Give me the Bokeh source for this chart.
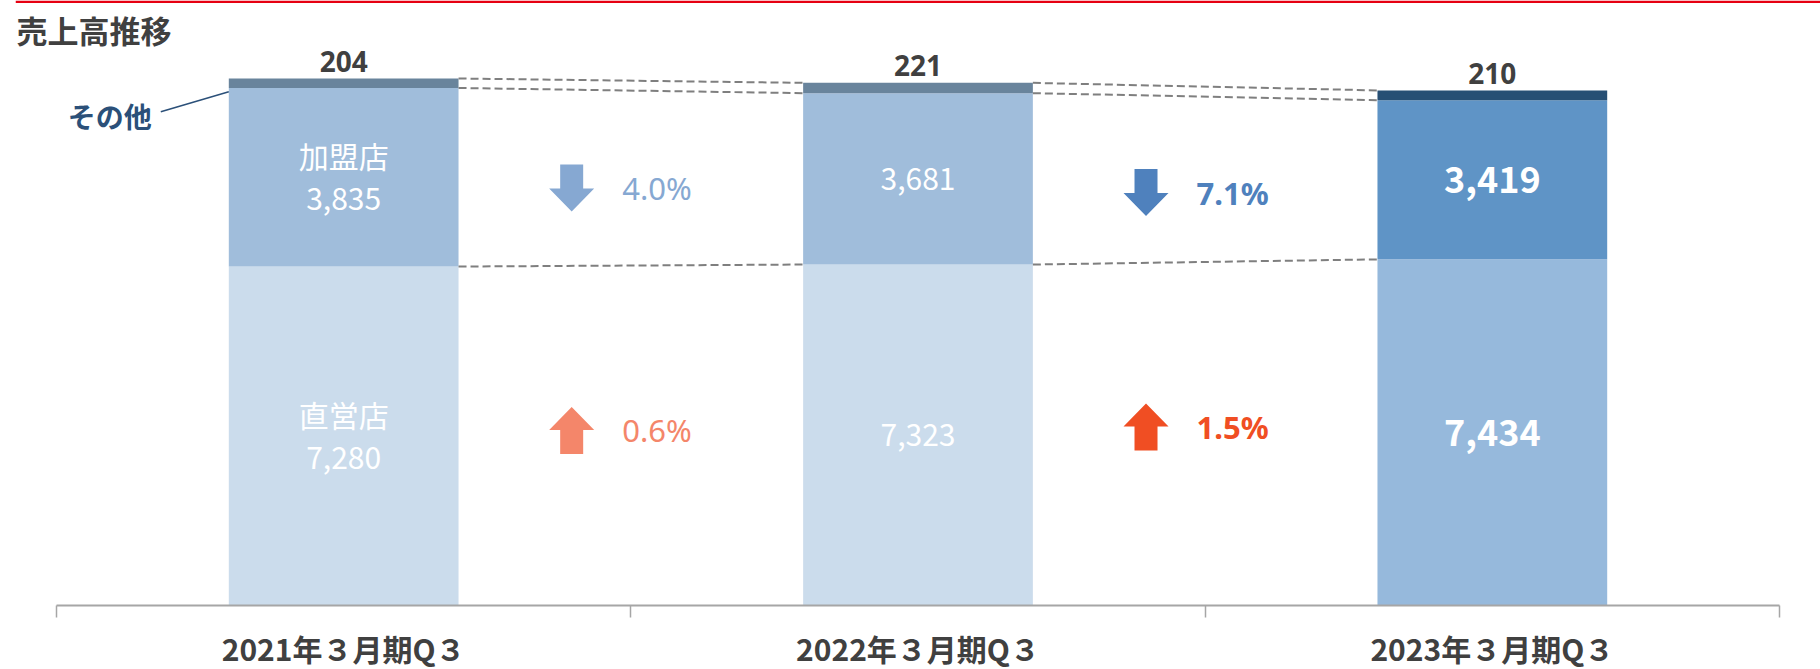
import numpy as np
from bokeh.plotting import figure
from bokeh.models import (FactorRange, Range1d, ColumnDataSource, LinearAxis, CategoricalAxis,
                          FixedTicker, Label, BoxAnnotation)
from bokeh.core.properties import value
from bokeh.embed import file_html
from bokeh.resources import INLINE

# ---------------- data ----------------
TITLE = "売上高推移"
CATEGORIES = ["2021年３月期Q３", "2022年３月期Q３", "2023年３月期Q３"]
DIRECT = [7280, 7323, 7434]      # 直営店
FRANCHISE = [3835, 3681, 3419]   # 加盟店
OTHER = [204, 221, 210]          # その他
NAME_DIRECT = "直営店"
NAME_FRANCHISE = "加盟店"
NAME_OTHER = "その他"

# ---------------- styles ----------------
DIRECT_COLORS = ["#CBDCEC", "#CBDCEC", "#96B9DC"]
FRANCHISE_COLORS = ["#A0BDDB", "#A0BDDB", "#5F94C6"]
OTHER_COLORS = ["#69849C", "#69849C", "#274F74"]
DOWN_COLORS = ["#86A8D2", "#4F81BD"]
UP_COLORS = ["#F4866A", "#F04E23"]
TEXT_DARK = "#404040"
CJK = value("Noto Sans CJK JP")
LAT = value("Noto Sans")

# ---------------- layout ----------------
W, H = 1820, 669
N = len(CATEGORIES)
PAD_PX = 41                  # gap between axis ends and frame edges
PX_X = 574.33                # px per category
ML = W - int(round(N * PX_X + 2 * PAD_PX))
RANGE_PAD = PAD_PX / PX_X
Y0_PX = 605                  # pixel row of value 0
Y_END = 12994
PX_Y = Y0_PX / Y_END
Y_START = -(H - Y0_PX) / PX_Y
BAR_W = 0.4

# vertical positions (data units) of the change markers
ROW_Y_FRANCHISE = [8967, 8870]
ROW_Y_DIRECT = [3759, 3834]

d = np.array(DIRECT, dtype=float)
f = np.array(FRANCHISE, dtype=float)
o = np.array(OTHER, dtype=float)
df_ = d + f
tot = df_ + o

p = figure(width=W, height=H,
           x_range=FactorRange(factors=CATEGORIES, range_padding=RANGE_PAD,
                               range_padding_units="absolute"),
           y_range=Range1d(Y_START, Y_END), output_backend="svg", toolbar_location=None,
           x_axis_location=None, y_axis_location=None,
           min_border_left=ML, min_border_right=0, min_border_top=0, min_border_bottom=0)
p.outline_line_color = None
p.xgrid.visible = False
p.ygrid.visible = False
p.background_fill_color = "white"

src = ColumnDataSource(dict(x=CATEGORIES, d=d, df=df_, tot=tot,
                            cd=DIRECT_COLORS, cf=FRANCHISE_COLORS, co=OTHER_COLORS))
p.vbar(x="x", bottom=0, top="d", width=BAR_W, fill_color="cd", line_color=None, source=src)
p.vbar(x="x", bottom="d", top="df", width=BAR_W, fill_color="cf", line_color=None, source=src)
p.vbar(x="x", bottom="df", top="tot", width=BAR_W, fill_color="co", line_color=None, source=src)

# dashed connectors between neighbouring bars
x0, y0, x1, y1 = [], [], [], []
for i in range(N - 1):
    for lev in (d, df_, tot):
        x0.append(i + 0.5 + BAR_W / 2); y0.append(lev[i])
        x1.append(i + 1.5 - BAR_W / 2); y1.append(lev[i + 1])
p.segment(x0=x0, y0=y0, x1=x1, y1=y1, line_color="#7F7F7F", line_width=2, line_dash="8 4")

# top value labels (その他)
p.text(x=CATEGORIES, y=tot, text=[f"{int(v):,}" for v in o], text_align="center",
       text_baseline="alphabetic", y_offset=-17, text_font=LAT, text_font_style="bold",
       text_font_size="28px", text_color=TEXT_DARK)

# segment value labels
val_fonts = ["30px", "30px", "36px"]
val_styles = ["normal", "normal", "bold"]
lab = ColumnDataSource(dict(
    x=CATEGORIES * 2,
    y=list(d / 2) + list(d + f / 2),
    t=[f"{int(v):,}" for v in d] + [f"{int(v):,}" for v in f],
    yo=[22, 0, 0, 22, 0, 0],
    fs=val_fonts * 2, st=val_styles * 2))
p.text(x="x", y="y", text="t", y_offset="yo", text_font_size="fs", text_font_style="st",
       text_font=CJK, text_align="center", text_baseline="middle", text_color="white", source=lab)
p.text(x=[CATEGORIES[0], CATEGORIES[0]], y=[d[0] / 2, d[0] + f[0] / 2],
       text=[NAME_DIRECT, NAME_FRANCHISE], y_offset=-22, text_font_size="30px",
       text_font=CJK, text_align="center", text_baseline="middle", text_color="white")

# change arrows and percentages
def arrow(cx, cy, up):
    pts = [(-11.5, -23.5), (11.5, -23.5), (11.5, 0.5), (22.5, 0.5), (0, 23.5), (-22.5, 0.5), (-11.5, 0.5)]
    s = -1 if up else 1
    return [cx + dx / PX_X for dx, dy in pts], [cy - s * dy / PX_Y for dx, dy in pts]

ax_, ay_, acol = [], [], []
tx, ty, tt, tcol, tst = [], [], [], [], []
for series, rows in ((f, ROW_Y_FRANCHISE), (d, ROW_Y_DIRECT)):
    chg = (series[1:] / series[:-1] - 1) * 100
    for i, c in enumerate(chg):
        gap = i + 1
        up = c > 0
        col = UP_COLORS[i] if up else DOWN_COLORS[i]
        xs, ys = arrow(gap - 0.103, rows[i], up)
        ax_.append(xs); ay_.append(ys); acol.append(col)
        tx.append(gap - 0.015); ty.append(rows[i]); tt.append(f"{abs(c):.1f}%")
        tcol.append(col); tst.append("normal" if i == 0 else "bold")
p.patches(xs=ax_, ys=ay_, fill_color=acol, line_color=None)
p.text(x=tx, y=ty, text=tt, text_color=tcol, text_font_style=tst, text_font=LAT,
       text_font_size="31px", text_align="left", text_baseline="middle")

# その他 callout
lbl_x = 0.5 - BAR_W / 2 - 77 / PX_X
lbl_y = df_[0] - 600
p.text(x=[lbl_x], y=[lbl_y], text=[NAME_OTHER], text_font=CJK, text_font_style="bold",
       text_font_size="28px", text_color="#2B5079", text_align="right", text_baseline="middle")
p.segment(x0=[0.5 - BAR_W / 2 - 68 / PX_X], y0=[lbl_y + 90], x1=[0.5 - BAR_W / 2], y1=[df_[0] - 0.4 * o[0]],
          line_color="#2B5079", line_width=1.5)

# title + red rule
p.add_layout(Label(x=-40 / PX_X, y=Y_END - 28.5 / PX_Y, text=TITLE, text_font="Noto Sans CJK JP",
                   text_font_style="bold", text_font_size="31px", text_color=TEXT_DARK,
                   text_baseline="middle", text_align="left"))
p.add_layout(BoxAnnotation(top=Y_END, bottom=Y_END - 2.5 / PX_Y, fill_color="#E60012",
                           fill_alpha=1, line_color=None))

# axes: boundary ticks + category labels, both pinned at y = 0
tick_axis = LinearAxis(ticker=FixedTicker(ticks=[], minor_ticks=list(range(N + 1))),
                       bounds=(0, N), fixed_location=0,
                       axis_line_color="#A6A6A6", axis_line_width=2,
                       major_tick_line_color=None,
                       minor_tick_line_color="#A6A6A6", minor_tick_line_width=1.5,
                       minor_tick_out=12, minor_tick_in=0)
cat_axis = CategoricalAxis(fixed_location=0, axis_line_color=None, major_tick_line_color=None,
                           major_tick_out=0, major_tick_in=0, major_label_standoff=20,
                           major_label_text_font="Noto Sans CJK JP", major_label_text_font_size="30px",
                           major_label_text_font_style="bold", major_label_text_color=TEXT_DARK)
p.add_layout(tick_axis, "below")
p.add_layout(cat_axis, "below")

open("out.html", "w").write(file_html(p, INLINE))
